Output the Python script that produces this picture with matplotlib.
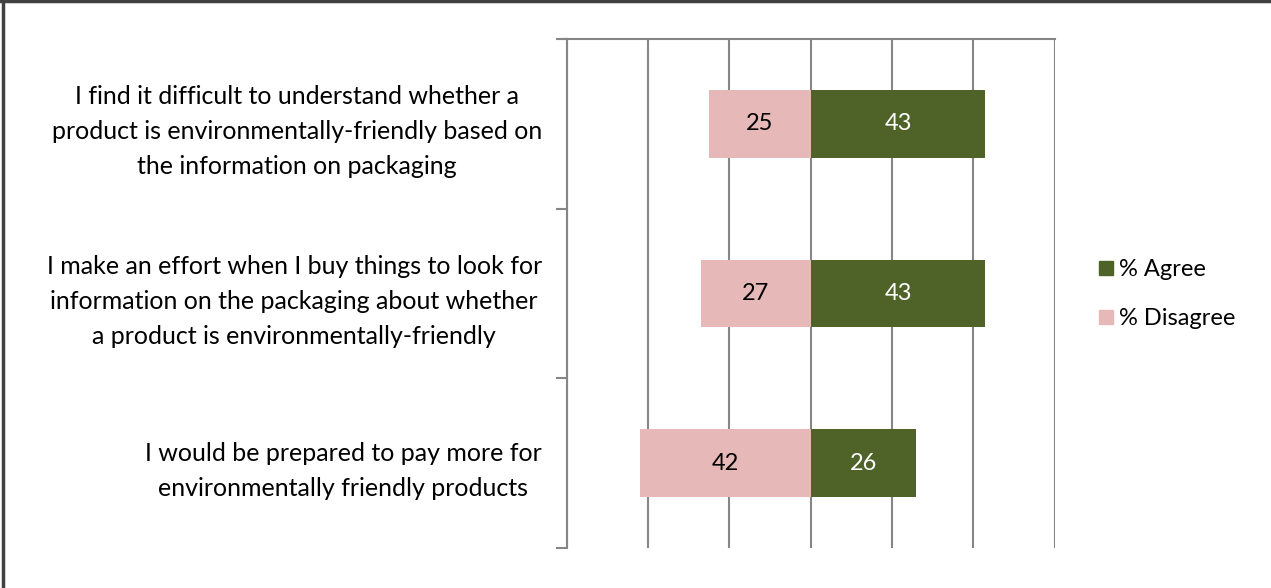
import numpy as np
import matplotlib.pyplot as plt
from matplotlib.lines import Line2D

# datos de la encuesta (porcentajes)
categorias = [
    "I find it difficult to understand whether a\nproduct is environmentally-friendly based on\nthe information on packaging",
    "I make an effort when I buy things to look for\ninformation on the packaging about whether\na product is environmentally-friendly",
    "I would be prepared to pay more for\nenvironmentally friendly products",
]
acuerdo = [43, 43, 26]
desacuerdo = [25, 27, 42]

verde = "#4F6228"
rosa = "#E6B9B8"
gris = "#868686"

plt.rcParams['font.family'] = ['Lato', 'DejaVu Sans']

fig = plt.figure(figsize=(12.71, 5.88), dpi=100)
ax = fig.add_axes([0.446, 0.068, 0.8297 - 0.446, 0.9337 - 0.068])

y = np.arange(len(categorias))
alto = 0.4

ax.barh(y, acuerdo, height=alto, color=verde, label="% Agree", zorder=3)
ax.barh(y, [-d for d in desacuerdo], height=alto, color=rosa,
        label="% Disagree", zorder=3)

for i in range(len(categorias)):
    ax.text(acuerdo[i] / 2, y[i], str(acuerdo[i]), ha='center', va='center',
            color='white', fontsize=17, zorder=4)
    ax.text(-desacuerdo[i] / 2, y[i], str(desacuerdo[i]), ha='center',
            va='center', color='black', fontsize=17, zorder=4)

ax.set_xlim(-60, 60)
ax.set_ylim(len(categorias) - 0.5, -0.5)
ax.set_xticks(np.arange(-60, 61, 20))
ax.xaxis.set_ticks_position('none')
ax.set_xticklabels([])
ax.grid(axis='x', color=gris, linewidth=1.5, zorder=0)

# marcas entre categorias en el eje vertical
ax.set_yticks(np.arange(-0.5, len(categorias), 1))
ax.set_yticklabels([])
ax.tick_params(axis='y', length=8, width=1.5, color=gris)
ax.set_yticks(y, minor=True)
ax.set_yticklabels(categorias, minor=True, fontsize=18,
                   multialignment='center', linespacing=1.62)
ax.tick_params(axis='y', which='minor', length=0, pad=18)

for lado in ['bottom', 'right']:
    ax.spines[lado].set_visible(False)
for lado in ['left', 'top']:
    ax.spines[lado].set_color(gris)
    ax.spines[lado].set_linewidth(1.5)

# extension de la linea superior hacia la marca izquierda
ax.plot([-61.6, -60], [-0.5, -0.5], color=gris, linewidth=1.5,
        clip_on=False, zorder=5)

handles = [Line2D([], [], marker='s', linestyle='none', markersize=10.5,
                  markerfacecolor=verde, markeredgecolor=verde),
           Line2D([], [], marker='s', linestyle='none', markersize=10.5,
                  markerfacecolor=rosa, markeredgecolor=rosa)]
fig.legend(handles, ["% Agree", "% Disagree"], loc='center left',
           bbox_to_anchor=(0.8495, 0.5), frameon=False, fontsize=17,
           handletextpad=0.15, labelspacing=1.2, handlelength=0.8,
           borderpad=0.2)

# marco de la figura (izquierda y arriba)
fig.add_artist(Line2D([0.0025, 0.0025], [0, 1], color='#404040',
                      linewidth=2.5, transform=fig.transFigure))
fig.add_artist(Line2D([0, 1], [0.998, 0.998], color='#404040',
                      linewidth=2.5, transform=fig.transFigure))

plt.savefig("out.png", dpi=100)
plt.close()
